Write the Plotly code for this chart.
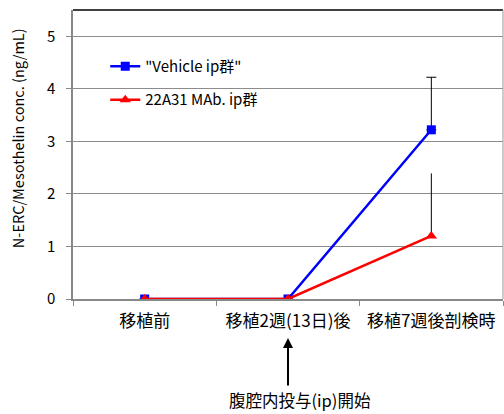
import plotly.graph_objects as go

categories = ["移植前", "移植2週(13日)後", "移植7週後剖検時"]
vehicle = [0.0, 0.0, 3.22]
vehicle_err = [0.0, 0.0, 1.0]
mab = [0.0, 0.0, 1.2]
mab_err = [0.0, 0.0, 1.19]
y_ticks = [0, 1, 2, 3, 4, 5]

FONT = "Noto Sans CJK JP, Open Sans, sans-serif"

fig = go.Figure()
fig.add_trace(go.Scatter(
    x=categories, y=vehicle, name='"Vehicle ip群"', mode="lines+markers",
    legendgroup="a",
    line=dict(color="#0000FF", width=2.5),
    marker=dict(symbol="square", size=9, color="#0000FF"),
    error_y=dict(type="data", symmetric=False, array=vehicle_err,
                 arrayminus=[0, 0, 0], color="black", thickness=1, width=5),
))
fig.add_trace(go.Scatter(
    x=categories, y=mab, name="22A31 MAb. ip群", mode="lines+markers",
    legendgroup="b",
    line=dict(color="#FF0000", width=2.5),
    marker=dict(symbol="triangle-up", size=10, color="#FF0000"),
    error_y=dict(type="data", symmetric=False, array=mab_err,
                 arrayminus=[0, 0, 0], color="black", thickness=1, width=0),
))

fig.update_layout(
    width=504, height=414,
    margin=dict(l=73, r=1, t=10, b=115),
    paper_bgcolor="white", plot_bgcolor="white",
    font=dict(family=FONT, size=15, color="black"),
    showlegend=True,
    legend=dict(x=0.075, y=0.862, xanchor="left", yanchor="top",
                bgcolor="rgba(0,0,0,0)", font=dict(size=15),
                traceorder="grouped", tracegroupgap=11, itemwidth=30),
    xaxis=dict(type="category", range=[-0.5, 2.5], tickson="boundaries",
               ticks="outside", ticklen=5, tickcolor="#888888",
               showline=True, linecolor="#888888", linewidth=1.5,
               showgrid=False, mirror=False, ticklabelstandoff=6,
               tickfont=dict(size=17, family=FONT)),
    yaxis=dict(range=[0, 5.5], tickvals=y_ticks, ticks="outside", ticklen=5,
               tickcolor="#888888", showline=True, linecolor="#888888",
               linewidth=1.5, showgrid=True, gridcolor="#8c8c8c",
               gridwidth=1, zeroline=False, ticklabelstandoff=8,
               tickfont=dict(size=15)),
    shapes=[
        dict(type="line", xref="paper", yref="paper", x0=0, x1=1, y0=1, y1=1,
             line=dict(color="black", width=1.5)),
        dict(type="line", xref="paper", yref="paper", x0=1, x1=1, y0=0, y1=1,
             line=dict(color="#999999", width=1)),
    ],
    annotations=[
        dict(x=-0.130, y=0.557, xref="paper", yref="paper",
             text="N-ERC/Mesothelin conc. (ng/mL)", textangle=-90,
             showarrow=False, font=dict(size=14.5),
             xanchor="center", yanchor="middle"),
        dict(x=categories[1], y=-0.135, xref="x", yref="paper",
             text="", showarrow=True, arrowhead=2,
             arrowsize=1, arrowwidth=2, arrowcolor="black",
             ax=0, ay=49),
        dict(x=0.528, y=-0.350, xref="paper", yref="paper",
             text="腹腔内投与(ip)開始", showarrow=False,
             xanchor="center", yanchor="middle", font=dict(size=16.5)),
    ],
)

fig.write_html("out.html")
